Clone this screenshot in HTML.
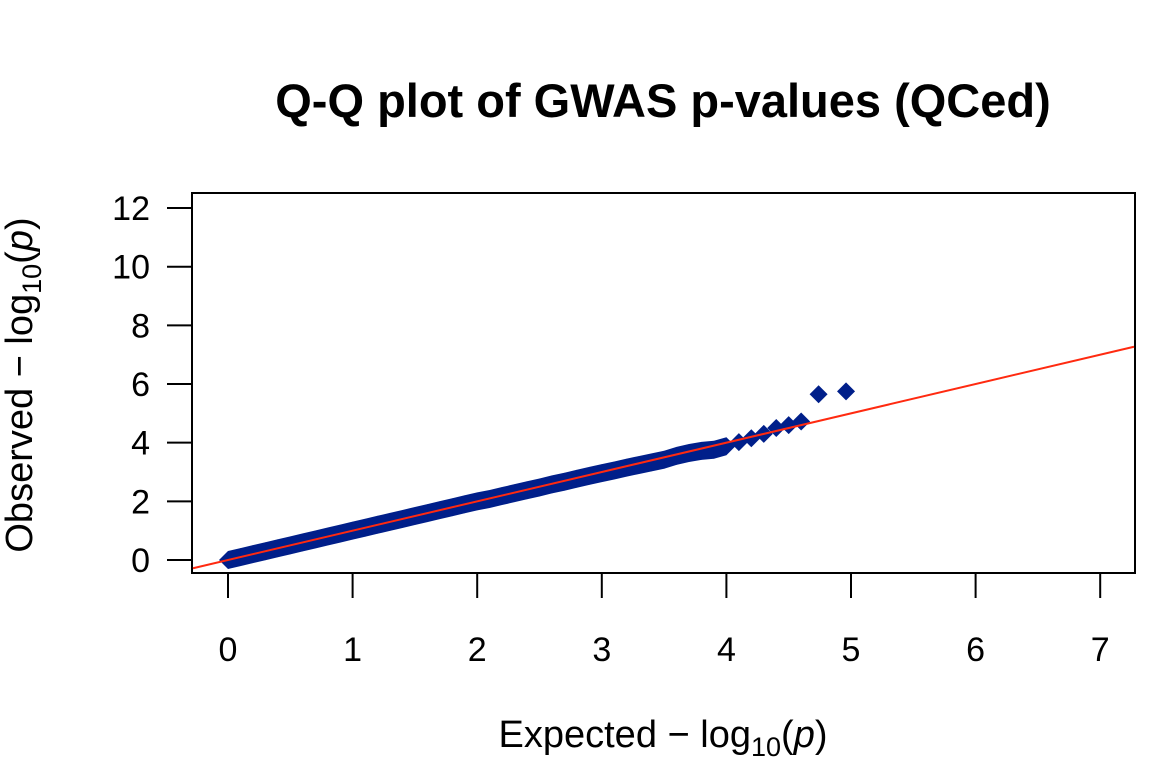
<!DOCTYPE html>
<html><head><meta charset="utf-8"><style>
body{margin:0;background:#fff;}
svg{display:block;font-family:"Liberation Sans",Arial,sans-serif;}
</style></head><body>
<svg id="chart" width="1176" height="772" viewBox="0 0 1176 772">
<text x="663" y="117" text-anchor="middle" font-size="47" font-weight="bold">Q-Q plot of GWAS p-values (QCed)</text>
<rect x="192" y="193" width="943" height="380" fill="none" stroke="#000" stroke-width="2"/>
<g id="xaxis"></g>
<g id="yaxis"></g>
<g id="points"></g>
<line id="ref" stroke="#ff2a10" stroke-width="2"/>
<text x="663" y="747" text-anchor="middle" font-size="38">Expected  − log<tspan font-size="27" dy="9">10</tspan><tspan dy="-9">(</tspan><tspan font-style="italic">p</tspan>)</text>
<text transform="translate(32,385) rotate(-90)" text-anchor="middle" font-size="38">Observed  − log<tspan font-size="27" dy="9">10</tspan><tspan dy="-9">(</tspan><tspan font-style="italic">p</tspan>)</text>
</svg>
<script>
const xTicks=[0,1,2,3,4,5,6,7];
const yTicks=[0,2,4,6,8,10,12];
const expected=[0,0.1,0.2,0.3,0.4,0.5,0.6,0.7,0.8,0.9,1.0,1.1,1.2,1.3,1.4,1.5,1.6,1.7,1.8,1.9,2.0,2.1,2.2,2.3,2.4,2.5,2.6,2.7,2.8,2.9,3.0,3.1,3.2,3.3,3.4,3.5,3.6,3.7,3.8,3.9,4.0,4.1,4.2,4.3,4.4,4.5,4.6,4.74,4.96];
const observed=[0,0.1,0.2,0.3,0.4,0.5,0.6,0.7,0.8,0.9,1.0,1.1,1.2,1.3,1.4,1.5,1.6,1.7,1.8,1.9,2.0,2.08,2.18,2.28,2.38,2.47,2.58,2.67,2.77,2.87,2.96,3.05,3.15,3.24,3.33,3.42,3.55,3.65,3.72,3.76,3.88,4.02,4.15,4.3,4.5,4.6,4.72,5.65,5.75];
const NS="http://www.w3.org/2000/svg";
const X=v=>228+v*124.6, Y=v=>560-v*29.33;
function mk(t,a,p){const e=document.createElementNS(NS,t);for(const k in a)e.setAttribute(k,a[k]);p.appendChild(e);return e;}
const xa=document.getElementById('xaxis'),ya=document.getElementById('yaxis'),pts=document.getElementById('points');
xTicks.forEach(t=>{
 const l=mk('line',{x1:X(t),x2:X(t),y1:573,y2:598,stroke:'#000','stroke-width':2},xa);
 
 
 const tx=mk('text',{x:X(t),y:661,'text-anchor':'middle','font-size':34},xa);tx.textContent=t;
 
 
});
yTicks.forEach(t=>{
 const l=mk('line',{x1:167,x2:192,y1:Y(t),y2:Y(t),stroke:'#000','stroke-width':2},ya);
 
 
 const tx=mk('text',{x:150,y:Y(t)+12,'text-anchor':'end','font-size':34},ya);tx.textContent=t;
 
 
});
const s=9;
expected.forEach((e,i)=>{
 const cx=X(e),cy=Y(observed[i]);
 const p=mk('polygon',{points:`${cx},${cy-s} ${cx+s},${cy} ${cx},${cy+s} ${cx-s},${cy}`,fill:'#001f8a'},pts);
 
 
});
for(let i=0;i<expected.length-1 && expected[i+1]<=4.0;i++){
 const a=X(expected[i]),b=Y(observed[i]),c=X(expected[i+1]),d=Y(observed[i+1]);
 const q=mk('polygon',{points:`${a},${b-s} ${c},${d-s} ${c},${d+s} ${a},${b+s}`,fill:'#001f8a'},pts);
 
 
}
const r=document.getElementById('ref');
r.setAttribute('x1',193);r.setAttribute('y1',Y((193-228)/124.6));
r.setAttribute('x2',1134);r.setAttribute('y2',Y((1134-228)/124.6));
</script>
</body></html>
